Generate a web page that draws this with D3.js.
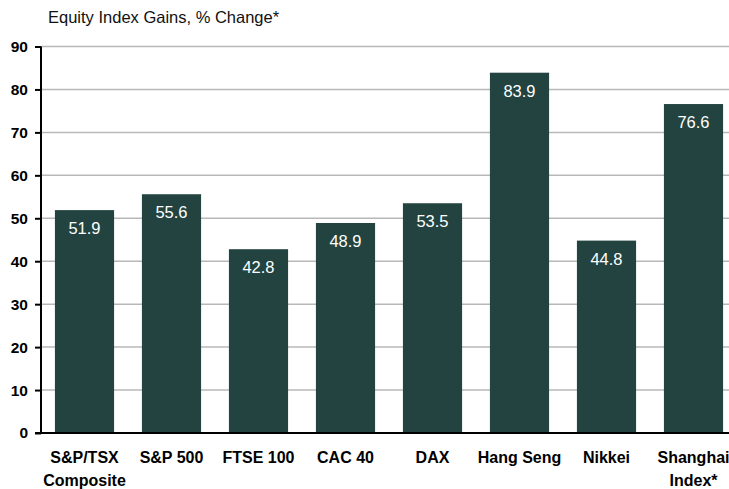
<!DOCTYPE html>
<html><head><meta charset="utf-8">
<script src="https://cdn.jsdelivr.net/npm/d3@7"></script>
<style>body{margin:0;background:#fff;}svg{display:block;font-family:Arial,"Liberation Sans",sans-serif;}</style>
</head><body>
<svg id="c" width="729" height="489"></svg>
<script>
const categories = [["S&P/TSX","Composite"],["S&P 500"],["FTSE 100"],["CAC 40"],["DAX"],["Hang Seng"],["Nikkei"],["Shanghai","Index*"]];
const values = [51.9, 55.6, 42.8, 48.9, 53.5, 83.9, 44.8, 76.6];
const yTicks = [0,10,20,30,40,50,60,70,80,90];
const title = "Equity Index Gains, % Change*";

const svg = d3.select("#c");
const x = d3.scaleBand().domain(d3.range(values.length)).range([41, 737]).paddingInner(0.32).paddingOuter(0.16);
const y = d3.scaleLinear().domain([0, 90]).range([433, 46.5]);

svg.append("text").attr("x", 48).attr("y", 23).attr("font-size", 16.5).attr("fill", "#111").text(title);

// gridlines
svg.append("g").selectAll("line").data(yTicks.filter(d => d > 0)).join("line")
  .attr("x1", 41).attr("x2", 729).attr("y1", d => y(d)).attr("y2", d => y(d))
  .attr("stroke", "#b8b8b8").attr("stroke-width", 1.5);

// bars
svg.append("g").selectAll("rect").data(values).join("rect")
  .attr("x", (d, i) => x(i)).attr("width", x.bandwidth())
  .attr("y", d => y(d)).attr("height", d => y(0) - y(d))
  .attr("fill", "#22433f");

// value labels
svg.append("g").selectAll("text").data(values).join("text")
  .attr("x", (d, i) => x(i) + x.bandwidth() / 2).attr("y", d => y(d) + 24)
  .attr("text-anchor", "middle").attr("fill", "#fff").attr("font-size", 16.5)
  .text(d => d.toFixed(1));

// y axis
const yAxis = d3.axisLeft(y).tickValues(yTicks).tickSize(6).tickPadding(7).tickFormat(d3.format("d"));
const gy = svg.append("g").attr("transform", "translate(41,0)").call(yAxis);
gy.select(".domain").remove();
gy.selectAll(".tick line").attr("stroke", "#000").attr("stroke-width", 2);
gy.selectAll(".tick text").attr("font-size", 15.5).attr("font-weight", "bold").attr("fill", "#000")
  .attr("font-family", "Arial, 'Liberation Sans', sans-serif");
svg.append("line").attr("x1", 41).attr("x2", 41).attr("y1", y(90)).attr("y2", y(0) + 1)
  .attr("stroke", "#000").attr("stroke-width", 2);
// baseline
svg.append("line").attr("x1", 35).attr("x2", 729).attr("y1", y(0)).attr("y2", y(0))
  .attr("stroke", "#000").attr("stroke-width", 2);

// x labels
const xl = svg.append("g").selectAll("text").data(categories).join("text")
  .attr("x", (d, i) => x(i) + x.bandwidth() / 2).attr("y", 463)
  .attr("text-anchor", "middle").attr("font-size", 16).attr("font-weight", "bold").attr("fill", "#000");
xl.selectAll("tspan").data(d => d).join("tspan")
  .attr("x", function() { return this.parentNode.getAttribute("x"); })
  .attr("dy", (d, i) => i === 0 ? 0 : 23).text(d => d);
</script>
</body></html>
